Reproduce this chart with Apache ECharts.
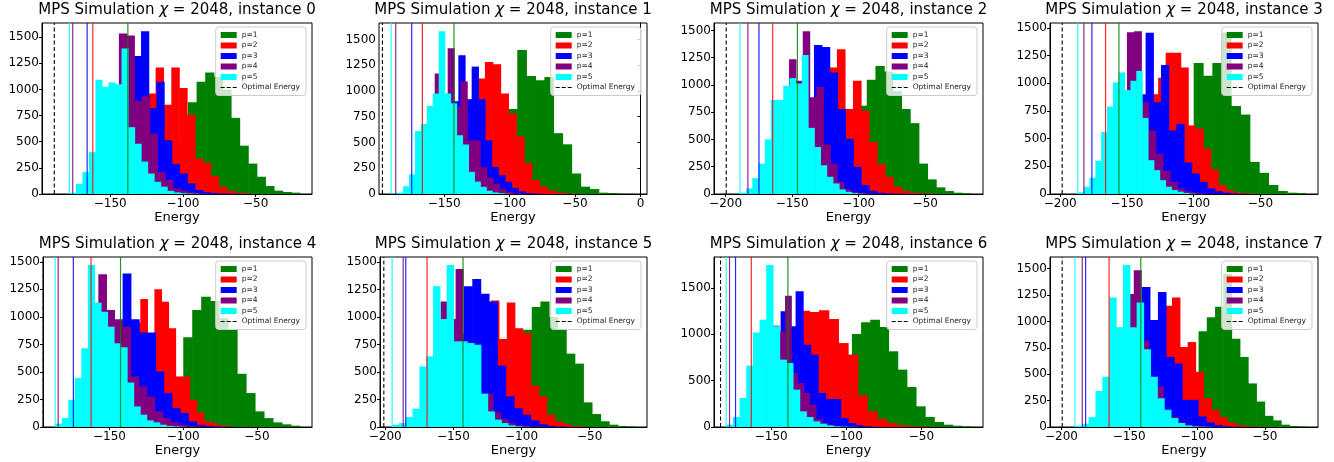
<!DOCTYPE html>
<html><head><meta charset="utf-8">
<script src="https://cdn.jsdelivr.net/npm/echarts@6/dist/echarts.min.js"></script>
<style>html,body{margin:0;padding:0;background:#fff}#c{width:1334px;height:462px}</style>
</head><body><div id="c"></div>
<script>
// ---------- data ----------
const instanceIds = [0, 1, 2, 3, 4, 5, 6, 7];
const seriesNames = ['p=1', 'p=2', 'p=3', 'p=4', 'p=5'];
const optimalEnergy = [-188.5, -197.2, -199.5, -198.5, -194.9, -201.0, -183.8, -199.5];
// lowest / highest sampled energy of each p (histogram range, 20 bins); order p=1..p=5
const binLo = [
  [-137.9, -162.0, -165.9, -175.8, -178.1],
  [-142.5, -166.7, -174.8, -187.0, -190.5],
  [-146.0, -164.6, -174.9, -183.2, -189.2],
  [-156.0, -166.0, -176.25, -182.25, -186.75],
  [-142.5, -162.5, -174.5, -184.8, -186.8],
  [-142.9, -169.3, -184.9, -186.8, -194.9],
  [-138.9, -163.3, -173.8, -177.8, -180.0],
  [-141.5, -164.9, -182.2, -184.7, -190.1]
];
const binHi = [
  [-19.7, -54.0, -60.1, -70.0, -88.5],
  [-4.3, -47.1, -73.0, -87.8, -99.7],
  [-15.8, -44.0, -56.9, -80.2, -96.2],
  [-16.0, -53.5, -61.25, -74.75, -99.25],
  [-20.9, -67.0, -63.1, -75.8, -98.2],
  [-16.9, -52.3, -62.9, -77.0, -94.9],
  [-17.1, -34.4, -73.8, -95.6, -91.1],
  [-19.75, -48.9, -63.7, -76.1, -88.9]
];
const counts0 = [
  [3,12,40,100,200,320,500,877,1073,1161,1120,1000,728,462,291,165,76,32,19,13],
  [3,8,30,80,180,350,600,962,1209,854,1209,1013,760,339,300,170,70,32,12,8],
  [10,60,200,450,650,876,1320,1557,823,1073,513,285,196,101,38,20,10,5,3,2],
  [5,30,150,400,700,993,1535,1516,892,934,576,212,133,54,32,15,8,4,2,1],
  [12,95,209,400,1092,1025,1066,1050,1392,639,481,310,196,117,70,30,15,8,4,2]
];
const counts1 = [
  [3,10,40,120,280,500,825,1397,1146,1104,1136,590,482,199,71,48,13,10,3,2],
  [3,10,40,120,300,550,850,1120,1281,1258,976,780,560,302,135,71,32,15,6,3],
  [3,10,40,120,300,600,900,1345,920,1236,920,520,263,183,120,60,25,10,5,2],
  [3,10,40,120,300,600,1169,900,1413,850,1092,520,520,260,160,100,50,20,8,3],
  [5,12,75,190,610,680,855,975,1580,975,880,570,480,215,120,70,32,15,8,3]
];
const counts2 = [
  [3,10,40,120,250,450,650,810,1047,1175,1123,947,780,650,279,134,61,27,12,8],
  [3,10,40,120,300,600,900,1160,1327,780,1038,765,477,273,158,67,30,12,6,3],
  [3,10,40,120,300,600,800,1366,1348,1114,780,507,249,82,30,12,6,3,2,1],
  [3,10,40,150,400,800,1236,1038,1494,887,984,455,279,112,42,20,10,5,2,1],
  [12,52,145,279,500,862,862,993,1063,1014,1275,607,431,264,158,97,42,20,8,3]
];
const counts3 = [
  [3,10,30,80,180,350,500,600,1183,1067,1183,1458,795,717,290,191,81,27,12,9],
  [3,10,40,120,300,600,900,1050,1276,1276,1141,619,590,410,221,81,35,15,6,3],
  [3,10,40,120,300,600,900,1455,828,1165,574,633,284,185,110,51,25,12,5,2],
  [3,10,40,150,400,900,1461,1470,828,574,365,209,110,51,25,12,6,3,2,1],
  [15,66,146,299,559,789,1007,1097,938,1022,1111,687,305,215,125,66,36,21,10,4]
];
const counts4 = [
  [3,10,40,120,250,350,450,815,1062,1183,1144,987,881,483,308,142,81,42,24,12],
  [3,10,40,150,400,700,950,1162,827,1250,1138,896,459,459,247,133,51,36,15,5],
  [3,10,40,150,400,750,1394,978,857,857,504,308,172,127,51,20,10,5,2,1],
  [3,20,80,250,600,1388,1062,978,911,459,368,278,142,81,42,20,10,5,2,1],
  [30,81,247,444,715,1470,1129,1047,911,760,724,404,187,112,60,42,21,10,5,2]
];
const counts5 = [
  [3,10,40,120,280,500,700,885,1091,1142,1000,885,667,576,224,118,52,21,10,5],
  [3,10,30,80,200,400,650,900,1151,800,1133,897,854,376,279,112,52,27,10,4],
  [3,10,40,120,300,550,850,1279,1345,1212,1142,558,279,173,112,60,25,10,5,2],
  [3,10,40,150,400,1142,982,1436,709,750,303,303,133,73,35,15,8,4,2,1],
  [21,36,91,167,551,642,1279,982,1472,779,779,764,748,303,142,67,36,15,6,2]
];
const counts6 = [
  [3,10,40,120,280,520,780,1004,1129,1158,1079,817,619,432,223,108,54,25,14,7],
  [3,10,40,150,400,1255,1240,1259,1165,906,780,342,169,86,43,20,10,5,2,1],
  [3,10,40,150,400,800,1248,1086,1464,888,780,367,302,302,97,43,20,8,3,1],
  [3,10,40,150,400,700,950,1093,1032,1417,583,475,367,241,86,40,18,8,3,1],
  [25,108,313,662,1021,1158,1747,1086,727,690,403,169,108,61,36,18,8,4,2,1]
];
const counts7 = [
  [3,10,40,120,280,400,500,908,1040,1140,1453,836,664,413,241,106,63,22,10,5],
  [3,10,40,150,400,700,945,1149,1227,758,805,523,272,163,94,44,20,8,3,1],
  [3,10,40,150,400,700,1000,1327,1014,1280,664,601,257,257,100,44,20,8,3,1],
  [3,10,40,150,400,800,1259,1484,820,451,382,147,94,45,20,10,5,2,1,1],
  [12,31,94,341,476,1227,946,1534,946,1180,736,476,272,163,85,38,15,6,3,1]
];
const allCounts = [counts0, counts1, counts2, counts3, counts4, counts5, counts6, counts7];
const xTickValues = [
  [-150, -100, -50], [-150, -100, -50, 0], [-200, -150, -100, -50], [-200, -150, -100, -50],
  [-150, -100, -50], [-200, -150, -100, -50], [-150, -100, -50], [-200, -150, -100, -50]
];
const yTickValues = [
  [0,250,500,750,1000,1250,1500], [0,250,500,750,1000,1250,1500], [0,250,500,750,1000,1250,1500], [0,250,500,750,1000,1250,1500],
  [0,250,500,750,1000,1250,1500], [0,250,500,750,1000,1250,1500], [0,500,1000,1500], [0,250,500,750,1000,1250,1500]
];

// ---------- layout / style ----------
const W = 1334;
const gridBoxes = [
  [42, 23, 270, 171], [379, 23, 268, 171], [714, 23, 269, 171], [1050, 23, 268, 171],
  [43, 257, 269, 170], [380, 257, 267, 170], [714, 257, 269, 170], [1050, 257, 268, 170]
];
const colors = ['#008000', '#ff0000', '#0000ff', '#800080', '#00ffff'];
const FONT = 'DejaVu Sans';
const minus = v => (v < 0 ? '\u2212' : '') + Math.abs(v);
const dashIcon = 'path://M0,0h0.01v0.01zM16,6h-0.01v-0.01zM0,2.5h4v1h-4zM6,2.5h4v1h-4zM12,2.5h4v1h-4z';

const grids = [], xAxes = [], yAxes = [], series = [], legends = [], titles = [];

instanceIds.forEach((inst, i) => {
  const [gl, gt, gw, gh] = gridBoxes[i];
  const counts = allCounts[i];
  // matplotlib-like autoscale
  const lo = Math.min(...binLo[i]), hi = Math.max(...binHi[i]);
  let r = hi - lo, xmin = lo - 0.05 * r, xmax = hi + 0.05 * r;
  const opt = optimalEnergy[i];
  if (opt < xmin) { const r2 = hi - opt; xmin = opt - 0.05 * r2; xmax = hi + 0.05 * r2; }
  const yMax = Math.max(...counts.map(c => Math.max(...c))) * 1.05;

  grids.push({left: gl, top: gt, width: gw, height: gh, show: true, borderColor: '#000', borderWidth: 1,
    backgroundColor: '#fff', containLabel: false, outerBoundsMode: 'none'});
  xAxes.push({type: 'value', gridIndex: i, min: xmin, max: xmax, splitLine: {show: false},
    axisLine: {show: true, onZero: false, lineStyle: {color: '#000', width: 1}},
    axisTick: {show: true, length: 3, customValues: xTickValues[i], lineStyle: {color: '#000'}},
    axisLabel: {customValues: xTickValues[i], formatter: minus, fontSize: 12, fontFamily: FONT, color: '#000', margin: 4},
    name: 'Energy', nameLocation: 'middle', nameGap: 17,
    nameTextStyle: {fontSize: 13, fontFamily: FONT, color: '#000'}});
  yAxes.push({type: 'value', gridIndex: i, min: 0, max: yMax, splitLine: {show: false},
    axisLine: {show: true, lineStyle: {color: '#000', width: 1}},
    axisTick: {show: true, length: 3, customValues: yTickValues[i], lineStyle: {color: '#000'}},
    axisLabel: {customValues: yTickValues[i], formatter: v => String(v), fontSize: 12, fontFamily: FONT, color: '#000', margin: 3}});

  seriesNames.forEach((name, j) => {
    const w = (binHi[i][j] - binLo[i][j]) / counts[j].length;
    const col = colors[j];
    series.push({
      type: 'custom', name: name, xAxisIndex: i, yAxisIndex: i, z: 2, silent: true, clip: true,
      itemStyle: {color: col},
      data: counts[j].map((c, k) => [binLo[i][j] + k * w, binLo[i][j] + (k + 1) * w, c]),
      encode: {x: [0, 1], y: 2},
      renderItem: (params, api) => {
        const a = api.coord([api.value(0), api.value(2)]);
        const b = api.coord([api.value(1), 0]);
        return {type: 'rect', shape: {x: a[0], y: a[1], width: b[0] - a[0] + 0.6, height: b[1] - a[1]},
          style: {fill: col}};
      }
    });
  });
  seriesNames.forEach((name, j) => {
    series.push({
      type: 'line', name: name + ' min', xAxisIndex: i, yAxisIndex: i, z: 3, silent: true,
      symbol: 'none', animation: false,
      data: [[binLo[i][j], 0], [binLo[i][j], yMax]],
      lineStyle: {color: colors[j], width: 1.2, opacity: 0.85}
    });
  });
  series.push({
    type: 'line', name: 'Optimal Energy', xAxisIndex: i, yAxisIndex: i, z: 3, silent: true,
    symbol: 'none', animation: false, itemStyle: {color: '#000'},
    data: [[opt, 0], [opt, yMax]],
    lineStyle: {color: '#000', width: 1.1, type: [4, 2.5]}
  });

  legends.push({
    data: seriesNames.map(n => ({name: n, icon: 'rect'})).concat([{name: 'Optimal Energy', icon: dashIcon}]),
    orient: 'vertical', right: W - (gl + gw) + 6, top: gt + 4,
    itemWidth: 16, itemHeight: 6, itemGap: 2.5, selectedMode: false, z: 20,
    textStyle: {fontSize: 7.5, fontFamily: FONT, color: '#222'},
    backgroundColor: 'rgba(255,255,255,0.8)', borderColor: '#cccccc', borderWidth: 1, borderRadius: 3,
    padding: [4, 6, 4, 5]
  });
  titles.push({
    text: '{a|MPS Simulation }{b|\u03c7}{a| = 2048, instance ' + inst + '}',
    left: gl + gw / 2, top: gt - 20, textAlign: 'center', padding: 0,
    textStyle: {fontWeight: 'normal', rich: {
      a: {fontSize: 15, fontFamily: FONT, fontWeight: 'normal', color: '#000'},
      b: {fontSize: 15, fontFamily: FONT, fontWeight: 'normal', fontStyle: 'italic', color: '#000'}
    }}
  });
});

const chart = echarts.init(document.getElementById('c'), null, {renderer: 'canvas'});
chart.setOption({
  animation: false, backgroundColor: '#fff',
  title: titles, grid: grids, xAxis: xAxes, yAxis: yAxes, legend: legends, series: series
});
</script></body></html>
